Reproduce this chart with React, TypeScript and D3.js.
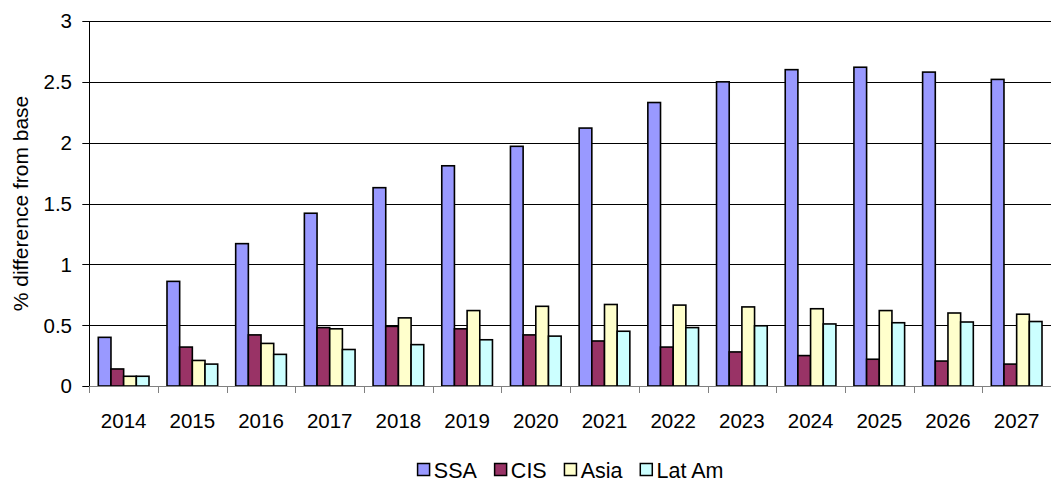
import React, { useEffect, useRef } from "react";
import * as d3 from "d3";

const years = ["2014","2015","2016","2017","2018","2019","2020","2021","2022","2023","2024","2025","2026","2027"];
const ssa = [0.40, 0.86, 1.17, 1.42, 1.63, 1.81, 1.97, 2.12, 2.33, 2.50, 2.60, 2.62, 2.58, 2.52];
const cis = [0.14, 0.32, 0.42, 0.48, 0.49, 0.47, 0.42, 0.37, 0.32, 0.28, 0.25, 0.22, 0.205, 0.18];
const asia = [0.08, 0.21, 0.35, 0.47, 0.56, 0.62, 0.655, 0.67, 0.665, 0.65, 0.635, 0.62, 0.60, 0.59];
const latam = [0.08, 0.18, 0.26, 0.30, 0.34, 0.38, 0.41, 0.45, 0.48, 0.495, 0.51, 0.52, 0.526, 0.53];
const seriesNames = ["SSA", "CIS", "Asia", "Lat Am"];
const seriesColors = ["#9999FF", "#993366", "#FFFFCC", "#CCFFFF"];
const yTicks = [0, 0.5, 1, 1.5, 2, 2.5, 3];
const yTitle = "% difference from base";

const W = 1051, H = 482;
const FONT = "'Liberation Sans', Arial, sans-serif";
const AX_FS = 20.5;
const TITLE_FS = 21;
const LG_FS = 21.5;

export default function App() {
  const ref = useRef<SVGSVGElement>(null);
  useEffect(() => {
    const svg = d3.select(ref.current);
    svg.selectAll("*").remove();
    const left = 89.3, right = 1051, top = 21, bottom = 386;
    const x = d3.scaleBand().domain(years).range([left, right]).paddingInner(0).paddingOuter(0);
    const y = d3.scaleLinear().domain([0, 3]).range([bottom, top]);
    const inner = d3.scaleBand().domain(seriesNames).range([0, x.bandwidth()]).paddingInner(0).paddingOuter(0.71);
    const all = [ssa, cis, asia, latam];

    // gridlines
    svg.append("g").selectAll("line").data(yTicks.filter(t => t > 0)).join("line")
      .attr("x1", left).attr("x2", right)
      .attr("y1", d => Math.round(y(d)) + 0.5).attr("y2", d => Math.round(y(d)) + 0.5)
      .attr("stroke", "#000").attr("stroke-width", 1);

    // y ticks
    svg.append("g").selectAll("line").data(yTicks).join("line")
      .attr("x1", left - 7).attr("x2", left)
      .attr("y1", d => Math.round(y(d)) + 0.5).attr("y2", d => Math.round(y(d)) + 0.5)
      .attr("stroke", "#000");
    svg.append("g").selectAll("text").data(yTicks).join("text")
      .attr("x", 72).attr("y", d => y(d)).attr("dy", "0.36em")
      .attr("text-anchor", "end").attr("font-family", FONT).attr("font-size", AX_FS)
      .text(d => String(d));

    // bars
    all.forEach((vals, si) => {
      svg.append("g").selectAll("rect").data(vals).join("rect")
        .attr("x", (d, i) => (x(years[i]) as number) + (inner(seriesNames[si]) as number))
        .attr("width", inner.bandwidth())
        .attr("y", d => y(d))
        .attr("height", d => y(0) - y(d))
        .attr("fill", seriesColors[si])
        .attr("stroke", "#000").attr("stroke-width", 1.6);
    });

    // x axis line
    svg.append("line").attr("x1", left).attr("x2", right)
      .attr("y1", bottom + 0.5).attr("y2", bottom + 0.5).attr("stroke", "#808080").attr("stroke-width", 1.2);
    // left axis
    svg.append("line").attr("x1", Math.round(left) + 0.5).attr("x2", Math.round(left) + 0.5)
      .attr("y1", top).attr("y2", bottom).attr("stroke", "#000");
    // x ticks at boundaries
    svg.append("g").selectAll("line").data(d3.range(years.length + 1)).join("line")
      .attr("x1", i => Math.round(left + i * x.bandwidth()) + 0.5)
      .attr("x2", i => Math.round(left + i * x.bandwidth()) + 0.5)
      .attr("y1", bottom).attr("y2", bottom + 7).attr("stroke", "#808080");
    svg.append("g").selectAll("text").data(years).join("text")
      .attr("x", d => (x(d) as number) + x.bandwidth() / 2).attr("y", 427.5)
      .attr("text-anchor", "middle").attr("font-family", FONT).attr("font-size", AX_FS)
      .text(d => d);

    // y title
    svg.append("text").attr("transform", `translate(28,${(top + bottom) / 2}) rotate(-90)`)
      .attr("text-anchor", "middle").attr("font-family", FONT).attr("font-size", TITLE_FS)
      .text(yTitle);

    // legend
    const lg = svg.append("g");
    const items = seriesNames.map((n, i) => {
      const g = lg.append("g");
      g.append("rect").attr("x", 0.75).attr("width", 12).attr("height", 12).attr("y", -14)
        .attr("fill", seriesColors[i]).attr("stroke", "#000").attr("stroke-width", 1.5);
      const t = g.append("text").attr("x", 17).attr("y", 0).attr("font-family", FONT).attr("font-size", LG_FS).text(n);
      const w = 17 + (t.node() as SVGTextElement).getComputedTextLength();
      return { g, w };
    });
    const gap = 17;
    const total = d3.sum(items, d => d.w) + gap * (items.length - 1);
    let cx = (left + right) / 2 - total / 2;
    items.forEach(it => {
      it.g.attr("transform", `translate(${cx},477.5)`);
      cx += it.w + gap;
    });
  }, []);
  return (
    <svg ref={ref} width={W} height={H} style={{ position: "absolute", left: 0, top: 0, background: "#fff" }} />
  );
}
